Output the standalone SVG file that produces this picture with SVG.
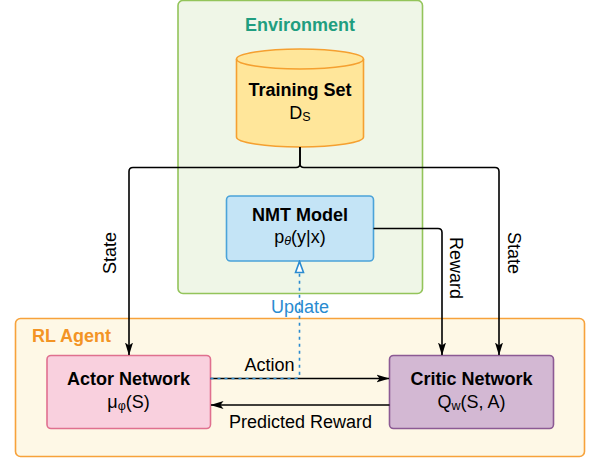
<svg xmlns="http://www.w3.org/2000/svg" width="590" height="459" viewBox="0 0 590 459">
<style>
text{font-family:"Liberation Sans",Arial,sans-serif;font-size:18px;fill:#000}
.b{font-weight:bold}
.c{text-anchor:middle}
.ln{fill:none;stroke:#000;stroke-width:1.6}
.sub{font-size:12.5px}
</style>
<defs>
<marker id="ar" markerWidth="14" markerHeight="10" refX="12.5" refY="5" orient="auto" markerUnits="userSpaceOnUse">
<path d="M0,1 L13,5 L0,9 L3,5 Z" fill="#000"/>
</marker>
<marker id="ho" markerWidth="14" markerHeight="12" refX="12" refY="6" orient="auto" markerUnits="userSpaceOnUse">
<path d="M1,2 L12,6 L1,10 Z" fill="#fff" stroke="#2a8bd0" stroke-width="1.6"/>
</marker>
</defs>
<g id="rl-agent">
<rect x="15.5" y="318.5" width="569" height="138" rx="5" fill="#fef8e6" stroke="#f7a23b" stroke-width="1.6"/>
<text x="32" y="342" class="b" style="fill:#f39425">RL Agent</text>
</g>
<g id="environment">
<rect x="178" y="0.5" width="244.5" height="293" rx="5" fill="#eff6e7" stroke="#93c45a" stroke-width="1.6"/>
<text x="300" y="30.5" class="b c" style="fill:#1f9e80">Environment</text>
</g>
<g id="training-set">
<path d="M236.5,59 V137 A63.5,10 0 0 0 363.5,137 V59 A63.5,10 0 0 0 236.5,59 Z" fill="#ffe69a" stroke="#f5a030" stroke-width="1.6"/>
<path d="M236.5,59 A63.5,10 0 0 0 363.5,59" fill="none" stroke="#f5a030" stroke-width="1.6"/>
<text x="300" y="95.5" class="b c">Training Set</text>
<text x="300" y="118.5" class="c">D<tspan class="sub" dy="2">S</tspan></text>
</g>
<g id="nmt-model">
<rect x="226.5" y="196" width="147" height="65" rx="4" fill="#c4e4f6" stroke="#4ba3d9" stroke-width="1.6"/>
<text x="300" y="221" class="b c">NMT Model</text>
<text x="300" y="243" class="c">p<tspan class="sub" dy="2" font-style="italic">θ</tspan><tspan dy="-2">(y|x)</tspan></text>
</g>
<g id="actor-network">
<rect x="47" y="355.5" width="163.5" height="73" rx="4" fill="#f9d0de" stroke="#e0708f" stroke-width="1.6"/>
<text x="128.5" y="384.5" class="b c">Actor Network</text>
<text x="128.5" y="408" class="c">μ<tspan class="sub" dy="2">φ</tspan><tspan dy="-2">(S)</tspan></text>
</g>
<g id="critic-network">
<rect x="389.5" y="355.5" width="164" height="73" rx="4" fill="#d3b8d3" stroke="#8c5a94" stroke-width="1.6"/>
<text x="471.5" y="384.5" class="b c">Critic Network</text>
<text x="471.5" y="408" class="c">Q<tspan class="sub" dy="2">w</tspan><tspan dy="-2">(S, A)</tspan></text>
</g>
<g id="connectors">
<path class="ln" d="M300,147 V163.5 Q300,167.5 296,167.5 H133 Q129,167.5 129,171.5 V355" marker-end="url(#ar)"/>
<path class="ln" d="M300,147 V163.5 Q300,167.5 304,167.5 H495 Q499,167.5 499,171.5 V355" marker-end="url(#ar)"/>
<path class="ln" d="M373.5,228.5 H438 Q442,228.5 442,232.5 V355" marker-end="url(#ar)"/>
<path class="ln" d="M210.5,378.5 H389" marker-end="url(#ar)"/>
<path class="ln" d="M389.5,405 H211" marker-end="url(#ar)"/>
<path d="M210.5,378.5 H295.5 Q299.5,378.5 299.5,374.5 V261.5" fill="none" stroke="#2a8bd0" stroke-width="1.6" stroke-dasharray="3 4" marker-end="url(#ho)"/>
<text x="269.5" y="371" class="c">Action</text>
<text x="300.5" y="427.5" class="c">Predicted Reward</text>
<text x="300" y="313" class="c" style="fill:#2a8bd0">Update</text>
<text transform="translate(116,253) rotate(-90)" class="c">State</text>
<text transform="translate(450,268) rotate(90)" class="c">Reward</text>
<text transform="translate(508,253) rotate(90)" class="c">State</text>
</g>
</svg>
